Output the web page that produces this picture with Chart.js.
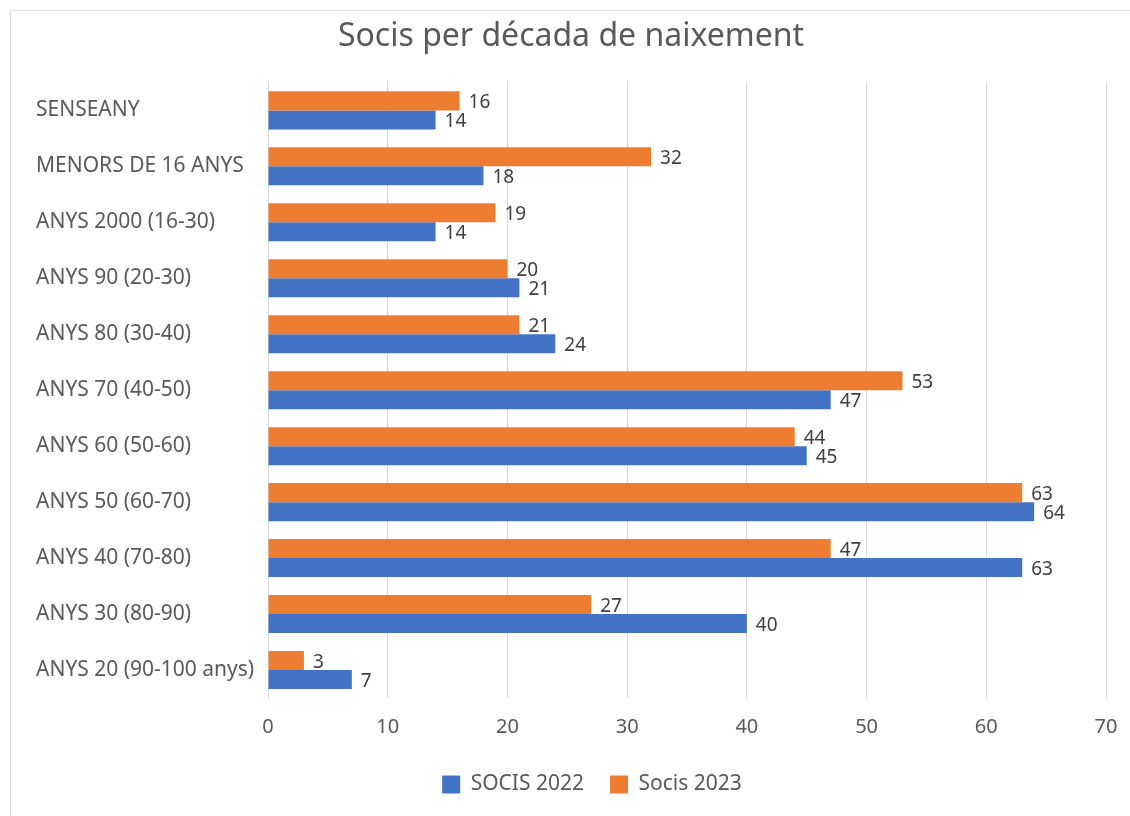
<!DOCTYPE html>
<html>
<head>
<meta charset="utf-8">
<script src="https://cdn.jsdelivr.net/npm/chart.js@4.4.1/dist/chart.umd.min.js"></script>
<style>
  html, body { margin: 0; padding: 0; background: #fff; }
  #frame {
    position: absolute; left: 10px; top: 10px; width: 1130px; height: 816px;
    border-top: 1px solid #e0e0e0; border-left: 1px solid #e0e0e0;
  }
  #wrap { position: absolute; left: 0; top: 0; width: 1130px; height: 816px; }
</style>
</head>
<body>
<div id="frame"></div>
<div id="wrap"><canvas id="chart"></canvas></div>
<script>
// categories, top to bottom
const categories = [
  'SENSEANY',
  'MENORS DE 16 ANYS',
  'ANYS 2000 (16-30)',
  'ANYS 90 (20-30)',
  'ANYS 80 (30-40)',
  'ANYS 70 (40-50)',
  'ANYS 60 (50-60)',
  'ANYS 50 (60-70)',
  'ANYS 40 (70-80)',
  'ANYS 30 (80-90)',
  'ANYS 20 (90-100 anys)'
];
const socis2022 = [14, 18, 14, 21, 24, 47, 45, 64, 63, 40, 7];
const socis2023 = [16, 32, 19, 20, 21, 53, 44, 63, 47, 27, 3];
const xTicks = [0, 10, 20, 30, 40, 50, 60, 70];

const FONT = '"Noto Sans", "Open Sans", sans-serif';

// value labels at the end of each bar
const barValues = {
  id: 'barValues',
  afterDatasetsDraw(chart) {
    const ctx = chart.ctx;
    ctx.save();
    ctx.font = '19px ' + FONT;
    ctx.fillStyle = '#404040';
    ctx.textAlign = 'left';
    ctx.textBaseline = 'middle';
    chart.data.datasets.forEach((ds, i) => {
      chart.getDatasetMeta(i).data.forEach((bar, j) => {
        ctx.fillText(String(ds.data[j]), bar.x + 9, bar.y + 2);
      });
    });
    ctx.restore();
  }
};

// the legend in the original sits a little right of centre
const legendShift = {
  id: 'legendShift',
  afterLayout(chart) {
    chart.legend.left += 21;
    chart.legend.right += 21;
  }
};

new Chart(document.getElementById('chart'), {
  type: 'bar',
  data: {
    labels: categories,
    datasets: [
      {
        label: 'Socis 2023',
        data: socis2023,
        backgroundColor: '#ED7D31',
        barPercentage: 1,
        categoryPercentage: 0.68
      },
      {
        label: 'SOCIS 2022',
        data: socis2022,
        backgroundColor: '#4472C4',
        barPercentage: 1,
        categoryPercentage: 0.68
      }
    ]
  },
  options: {
    indexAxis: 'y',
    responsive: true,
    maintainAspectRatio: false,
    animation: false,
    layout: { padding: { left: 36, right: 24, top: 0, bottom: 11 } },
    plugins: {
      title: {
        display: true,
        text: 'Socis per década de naixement',
        color: '#595959',
        font: { family: FONT, size: 32, weight: 'normal' },
        padding: { top: 18, bottom: 26 }
      },
      legend: {
        position: 'bottom',
        reverse: true,
        labels: {
          color: '#595959',
          font: { family: FONT, size: 21 },
          boxWidth: 18,
          boxHeight: 18,
          padding: 26
        }
      },
      tooltip: { enabled: false }
    },
    scales: {
      x: {
        min: 0,
        max: 70,
        afterBuildTicks: (scale) => { scale.ticks = xTicks.map(v => ({ value: v })); },
        afterFit: (scale) => {
          scale.height = 50;
          scale.paddingLeft = 0;
          scale.paddingRight = 0;
        },
        grid: { color: '#d9d9d9', drawTicks: false },
        border: { display: false },
        ticks: {
          color: '#595959',
          font: { family: FONT, size: 20 },
          padding: 17
        }
      },
      y: {
        afterFit: (scale) => { scale.width = 232; },
        grid: { display: false },
        border: { display: true, color: '#d9d9d9' },
        ticks: {
          color: '#595959',
          font: { family: FONT, size: 21 },
          crossAlign: 'far'
        }
      }
    }
  },
  plugins: [barValues, legendShift]
});
</script>
</body>
</html>
